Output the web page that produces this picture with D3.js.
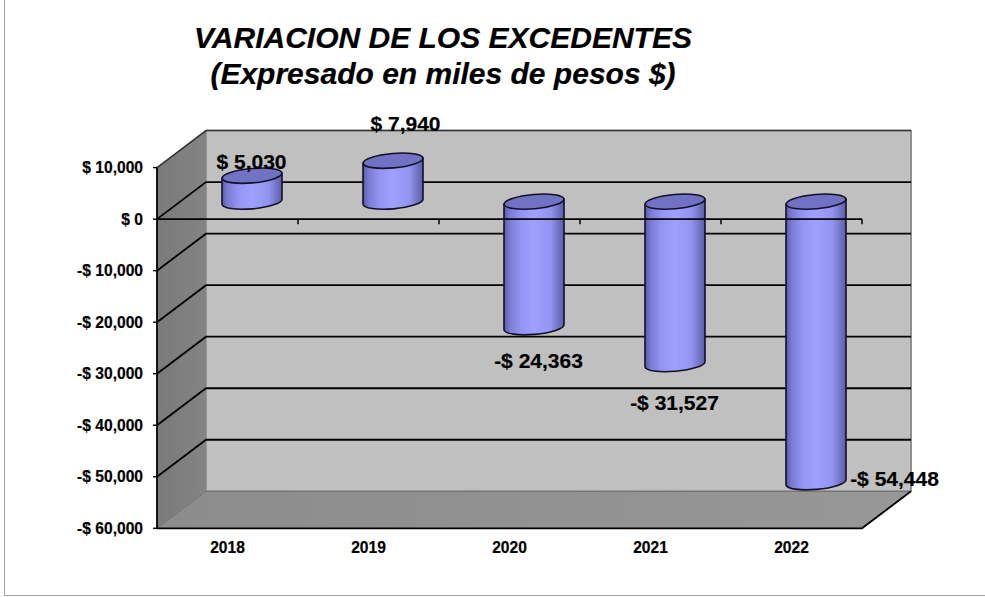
<!DOCTYPE html>
<html><head><meta charset="utf-8">
<script src="https://cdn.jsdelivr.net/npm/d3@7/dist/d3.min.js"></script>
<style>html,body{margin:0;padding:0;background:#fff}svg{display:block}text{font-family:"Liberation Sans",Arial,sans-serif;font-weight:bold;fill:#000;stroke:#000;stroke-width:.2px}</style>
</head><body><svg id="c" width="985" height="597"></svg>
<script>
const years = ["2018","2019","2020","2021","2022"];
const values = [5030,7940,-24363,-31527,-54448];
const valueLabels = ["$ 5,030","$ 7,940","-$ 24,363","-$ 31,527","-$ 54,448"];
const yTicks = [10000,0,-10000,-20000,-30000,-40000,-50000,-60000];
const titleLines = ["VARIACION DE LOS EXCEDENTES","(Expresado en miles de pesos $)"];
const labelPos = [[251.5,169],[405.5,131],[538.5,367.5],[674.5,410],[894.5,486]];

const svg = d3.select("#c");
const x = d3.scaleBand().domain(years).range([157,862]);
const y = d3.scaleLinear().domain([10000,-60000]).range([167.6,528.3]);
const dx = 49, dy = -37;
const [L,R] = x.range();
const T = y(10000), B = y(-60000);
const fmt = v => (v<0?"-":"")+"$ "+d3.format(",")(Math.abs(v));

const defs = svg.append("defs");
const g1 = defs.append("linearGradient").attr("id","bar");
[[0,"#5a5aa8"],[.1,"#7c7cd4"],[.28,"#9494f4"],[.5,"#a0a0ff"],[.78,"#9292f0"],[.92,"#7070c0"],[1,"#5c5cac"]]
  .forEach(s=>g1.append("stop").attr("offset",s[0]).attr("stop-color",s[1]));
const g2 = defs.append("linearGradient").attr("id","side");
[[0,"#7a7a7a"],[1,"#848484"]].forEach(s=>g2.append("stop").attr("offset",s[0]).attr("stop-color",s[1]));
const g3 = defs.append("linearGradient").attr("id","floor");
[[0,"#8c8c8c"],[1,"#979797"]].forEach(s=>g3.append("stop").attr("offset",s[0]).attr("stop-color",s[1]));

// frame
svg.append("rect").attr("x",4.5).attr("y",-2).attr("width",985).attr("height",597.5)
  .attr("fill","#fff").attr("stroke","#a6a6a6").attr("stroke-width",1);

const poly = pts => "M"+pts.map(p=>p.join(",")).join("L")+"Z";
// walls
svg.append("path").attr("d",poly([[L+dx,T+dy],[R+dx,T+dy],[R+dx,B+dy],[L+dx,B+dy]]))
  .attr("fill","#c0c0c0").attr("stroke","#8a8a8a").attr("stroke-width",1.5);
svg.append("path").attr("d",poly([[L,T],[L+dx,T+dy],[L+dx,B+dy],[L,B]]))
  .attr("fill","url(#side)");
svg.append("path").attr("d",poly([[L,B],[L+dx,B+dy],[R+dx,B+dy],[R,B]]))
  .attr("fill","url(#floor)");
svg.append("path").attr("d",`M${L},${B}L${L+dx},${B+dy}H${R+dx}`).attr("fill","none").attr("stroke","#6e6e6e").attr("stroke-width",1);
svg.append("path").attr("d",`M${R+dx},${T+dy}V${B+dy}`).attr("fill","none").attr("stroke","#909090").attr("stroke-width",2);
svg.append("path").attr("d",`M${L},${T}L${L+dx},${T+dy}H${R+dx}`).attr("fill","none").attr("stroke","#333").attr("stroke-width",1.5);

// gridlines
yTicks.filter(t=>t!==-60000&&t!==10000).forEach(t=>{
  const py=y(t);
  svg.append("path").attr("d",`M${L},${py}L${L+dx},${py+dy}H${R+dx}`)
    .attr("fill","none").attr("stroke","#000").attr("stroke-width",1.8);
});
// floor outer edge
svg.append("path").attr("d",`M${L},${B}H${R}L${R+dx},${B+dy}`).attr("fill","none").attr("stroke","#000").attr("stroke-width",1.8);

// y axis
svg.append("line").attr("x1",L).attr("x2",L).attr("y1",T).attr("y2",B).attr("stroke","#000").attr("stroke-width",1.8);
const gy = svg.append("g");
yTicks.forEach(t=>{
  gy.append("line").attr("x1",L-4).attr("x2",L).attr("y1",y(t)).attr("y2",y(t)).attr("stroke","#000").attr("stroke-width",1.4);
  gy.append("text").attr("x",L-14).attr("y",y(t)+5.5).attr("text-anchor","end").attr("font-size",15.6).text(fmt(t));
});

// cylinders
const rx=30, ry=7.2, off=[24.5,-17.5], tilt=-5;
const slope=Math.tan(tilt*Math.PI/180)*rx;
years.forEach((d,i)=>{
  const cx=x(d)+x.bandwidth()/2+off[0];
  const y0=y(0)+off[1], yv=y(values[i])+off[1];
  const top=Math.min(y0,yv), bot=Math.max(y0,yv);
  const g=svg.append("g").attr("stroke","#111126").attr("stroke-width",1.6);
  const lx=cx-rx, rxx=cx+rx;
  const a=`A${rx},${ry} ${tilt} 0 0`;
  g.append("path").attr("d",`M${lx},${top-slope}V${bot-slope}${a} ${rxx},${bot+slope}V${top+slope}Z`)
    .attr("fill","url(#bar)");
  g.append("ellipse").attr("cx",cx).attr("cy",top).attr("rx",rx).attr("ry",ry)
    .attr("transform",`rotate(${tilt} ${cx} ${top})`).attr("fill","#7272c4");
});

// zero axis with ticks, in front of the bars
svg.append("line").attr("x1",L).attr("x2",R).attr("y1",y(0)).attr("y2",y(0)).attr("stroke","#000").attr("stroke-width",1.6);
years.forEach(d=>{
  const tx=x(d)+x.bandwidth();
  svg.append("line").attr("x1",tx).attr("x2",tx).attr("y1",y(0)).attr("y2",y(0)+5).attr("stroke","#000").attr("stroke-width",1.5);
  svg.append("text").attr("x",x(d)+x.bandwidth()/2).attr("y",552.5).attr("text-anchor","middle").attr("font-size",15.6).text(d);
});

// value labels
valueLabels.forEach((t,i)=>{
  svg.append("text").attr("x",labelPos[i][0]).attr("y",labelPos[i][1]).attr("text-anchor","middle").attr("font-size",21).text(t);
});
// title
svg.append("g").selectAll("text").data(titleLines).join("text")
  .attr("x",443).attr("y",(d,i)=>48+i*36).attr("text-anchor","middle")
  .attr("font-size",30).attr("font-style","italic").text(d=>d);
</script></body></html>
